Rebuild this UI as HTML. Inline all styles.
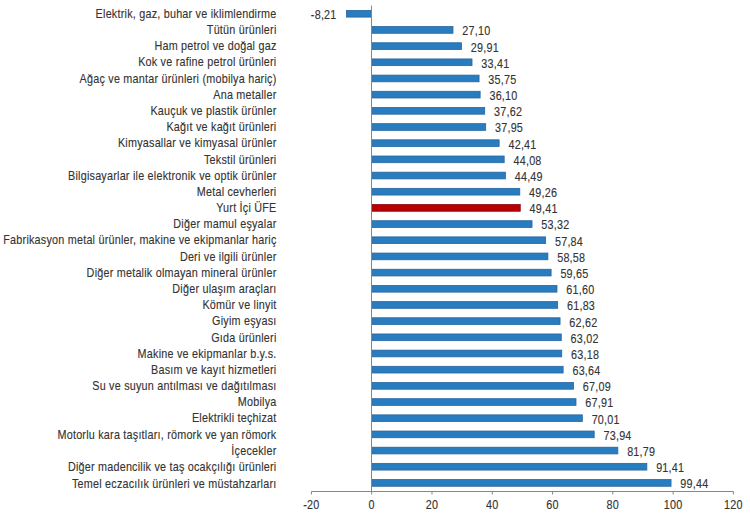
<!DOCTYPE html>
<html><head><meta charset="utf-8"><style>
html,body{margin:0;padding:0;background:#fff;overflow:hidden;width:750px;height:515px;}
svg{display:block;}
text{font-family:"Liberation Sans",sans-serif;font-size:12.0px;fill:#333;stroke:#333;stroke-width:0.12px;letter-spacing:0.245px;}
</style></head><body>
<svg width="750" height="515" viewBox="0 0 750 515">
<rect width="750" height="515" fill="#fff"/>

<rect x="346.45" y="10.40" width="24.85" height="6.70" fill="#277DC0" stroke="#2a659c" stroke-width="0.8"/>
<rect x="372.10" y="26.58" width="80.89" height="6.70" fill="#277DC0" stroke="#2a659c" stroke-width="0.8"/>
<rect x="372.10" y="42.76" width="89.36" height="6.70" fill="#277DC0" stroke="#2a659c" stroke-width="0.8"/>
<rect x="372.10" y="58.93" width="99.91" height="6.70" fill="#277DC0" stroke="#2a659c" stroke-width="0.8"/>
<rect x="372.10" y="75.11" width="106.96" height="6.70" fill="#277DC0" stroke="#2a659c" stroke-width="0.8"/>
<rect x="372.10" y="91.29" width="108.02" height="6.70" fill="#277DC0" stroke="#2a659c" stroke-width="0.8"/>
<rect x="372.10" y="107.47" width="112.60" height="6.70" fill="#277DC0" stroke="#2a659c" stroke-width="0.8"/>
<rect x="372.10" y="123.65" width="113.59" height="6.70" fill="#277DC0" stroke="#2a659c" stroke-width="0.8"/>
<rect x="372.10" y="139.82" width="127.04" height="6.70" fill="#277DC0" stroke="#2a659c" stroke-width="0.8"/>
<rect x="372.10" y="156.00" width="132.07" height="6.70" fill="#277DC0" stroke="#2a659c" stroke-width="0.8"/>
<rect x="372.10" y="172.18" width="133.31" height="6.70" fill="#277DC0" stroke="#2a659c" stroke-width="0.8"/>
<rect x="372.10" y="188.36" width="147.68" height="6.70" fill="#277DC0" stroke="#2a659c" stroke-width="0.8"/>
<rect x="372.10" y="204.54" width="148.14" height="6.70" fill="#B90000" stroke="#8a0010" stroke-width="0.8"/>
<rect x="372.10" y="220.71" width="159.92" height="6.70" fill="#277DC0" stroke="#2a659c" stroke-width="0.8"/>
<rect x="372.10" y="236.89" width="173.55" height="6.70" fill="#277DC0" stroke="#2a659c" stroke-width="0.8"/>
<rect x="372.10" y="253.07" width="175.78" height="6.70" fill="#277DC0" stroke="#2a659c" stroke-width="0.8"/>
<rect x="372.10" y="269.25" width="179.00" height="6.70" fill="#277DC0" stroke="#2a659c" stroke-width="0.8"/>
<rect x="372.10" y="285.43" width="184.88" height="6.70" fill="#277DC0" stroke="#2a659c" stroke-width="0.8"/>
<rect x="372.10" y="301.60" width="185.57" height="6.70" fill="#277DC0" stroke="#2a659c" stroke-width="0.8"/>
<rect x="372.10" y="317.78" width="187.96" height="6.70" fill="#277DC0" stroke="#2a659c" stroke-width="0.8"/>
<rect x="372.10" y="333.96" width="189.16" height="6.70" fill="#277DC0" stroke="#2a659c" stroke-width="0.8"/>
<rect x="372.10" y="350.14" width="189.64" height="6.70" fill="#277DC0" stroke="#2a659c" stroke-width="0.8"/>
<rect x="372.10" y="366.31" width="191.03" height="6.70" fill="#277DC0" stroke="#2a659c" stroke-width="0.8"/>
<rect x="372.10" y="382.49" width="201.43" height="6.70" fill="#277DC0" stroke="#2a659c" stroke-width="0.8"/>
<rect x="372.10" y="398.67" width="203.90" height="6.70" fill="#277DC0" stroke="#2a659c" stroke-width="0.8"/>
<rect x="372.10" y="414.85" width="210.23" height="6.70" fill="#277DC0" stroke="#2a659c" stroke-width="0.8"/>
<rect x="372.10" y="431.03" width="222.08" height="6.70" fill="#277DC0" stroke="#2a659c" stroke-width="0.8"/>
<rect x="372.10" y="447.21" width="245.74" height="6.70" fill="#277DC0" stroke="#2a659c" stroke-width="0.8"/>
<rect x="372.10" y="463.38" width="274.74" height="6.70" fill="#277DC0" stroke="#2a659c" stroke-width="0.8"/>
<rect x="372.10" y="479.56" width="298.94" height="6.70" fill="#277DC0" stroke="#2a659c" stroke-width="0.8"/>
<line x1="371.5" y1="5.66" x2="371.5" y2="491.5" stroke="#868686" stroke-width="1"/>
<line x1="311.41" y1="491.5" x2="733.42" y2="491.5" stroke="#868686" stroke-width="1"/>
<line x1="311.41" y1="491.5" x2="311.41" y2="494.5" stroke="#868686" stroke-width="1"/>
<text transform="translate(311.41,508.5) scale(0.9000,1)" text-anchor="middle">-20</text>
<line x1="371.70" y1="491.5" x2="371.70" y2="494.5" stroke="#868686" stroke-width="1"/>
<text transform="translate(371.70,508.5) scale(0.9000,1)" text-anchor="middle">0</text>
<line x1="431.99" y1="491.5" x2="431.99" y2="494.5" stroke="#868686" stroke-width="1"/>
<text transform="translate(431.99,508.5) scale(0.9000,1)" text-anchor="middle">20</text>
<line x1="492.27" y1="491.5" x2="492.27" y2="494.5" stroke="#868686" stroke-width="1"/>
<text transform="translate(492.27,508.5) scale(0.9000,1)" text-anchor="middle">40</text>
<line x1="552.56" y1="491.5" x2="552.56" y2="494.5" stroke="#868686" stroke-width="1"/>
<text transform="translate(552.56,508.5) scale(0.9000,1)" text-anchor="middle">60</text>
<line x1="612.84" y1="491.5" x2="612.84" y2="494.5" stroke="#868686" stroke-width="1"/>
<text transform="translate(612.84,508.5) scale(0.9000,1)" text-anchor="middle">80</text>
<line x1="673.13" y1="491.5" x2="673.13" y2="494.5" stroke="#868686" stroke-width="1"/>
<text transform="translate(673.13,508.5) scale(0.9000,1)" text-anchor="middle">100</text>
<line x1="733.42" y1="491.5" x2="733.42" y2="494.5" stroke="#868686" stroke-width="1"/>
<text transform="translate(733.42,508.5) scale(0.9000,1)" text-anchor="middle">120</text>
<text transform="translate(276.5,17.95) scale(0.9000,1)" text-anchor="end">Elektrik, gaz, buhar ve iklimlendirme</text>
<text transform="translate(276.5,34.13) scale(0.9000,1)" text-anchor="end">Tütün ürünleri</text>
<text transform="translate(276.5,50.31) scale(0.9000,1)" text-anchor="end">Ham petrol ve doğal gaz</text>
<text transform="translate(276.5,66.48) scale(0.9000,1)" text-anchor="end">Kok ve rafine petrol ürünleri</text>
<text transform="translate(276.5,82.66) scale(0.9000,1)" text-anchor="end">Ağaç ve mantar ürünleri (mobilya hariç)</text>
<text transform="translate(276.5,98.84) scale(0.9000,1)" text-anchor="end">Ana metaller</text>
<text transform="translate(276.5,115.02) scale(0.9000,1)" text-anchor="end">Kauçuk ve plastik ürünler</text>
<text transform="translate(276.5,131.19) scale(0.9000,1)" text-anchor="end">Kağıt ve kağıt ürünleri</text>
<text transform="translate(276.5,147.37) scale(0.9000,1)" text-anchor="end">Kimyasallar ve kimyasal ürünler</text>
<text transform="translate(276.5,163.55) scale(0.9000,1)" text-anchor="end">Tekstil ürünleri</text>
<text transform="translate(276.5,179.73) scale(0.9000,1)" text-anchor="end">Bilgisayarlar ile elektronik ve optik ürünler</text>
<text transform="translate(276.5,195.91) scale(0.9000,1)" text-anchor="end">Metal cevherleri</text>
<text transform="translate(276.5,212.09) scale(0.9000,1)" text-anchor="end">Yurt İçi ÜFE</text>
<text transform="translate(276.5,228.26) scale(0.9000,1)" text-anchor="end">Diğer mamul eşyalar</text>
<text transform="translate(276.5,244.44) scale(0.9000,1)" text-anchor="end">Fabrikasyon metal ürünler, makine ve ekipmanlar hariç</text>
<text transform="translate(276.5,260.62) scale(0.9000,1)" text-anchor="end">Deri ve ilgili ürünler</text>
<text transform="translate(276.5,276.80) scale(0.9000,1)" text-anchor="end">Diğer metalik olmayan mineral ürünler</text>
<text transform="translate(276.5,292.98) scale(0.9000,1)" text-anchor="end">Diğer ulaşım araçları</text>
<text transform="translate(276.5,309.15) scale(0.9000,1)" text-anchor="end">Kömür ve linyit</text>
<text transform="translate(276.5,325.33) scale(0.9000,1)" text-anchor="end">Giyim eşyası</text>
<text transform="translate(276.5,341.51) scale(0.9000,1)" text-anchor="end">Gıda ürünleri</text>
<text transform="translate(276.5,357.69) scale(0.9000,1)" text-anchor="end">Makine ve ekipmanlar b.y.s.</text>
<text transform="translate(276.5,373.87) scale(0.9000,1)" text-anchor="end">Basım ve kayıt hizmetleri</text>
<text transform="translate(276.5,390.04) scale(0.9000,1)" text-anchor="end">Su ve suyun antılması ve dağıtılması</text>
<text transform="translate(276.5,406.22) scale(0.9000,1)" text-anchor="end">Mobilya</text>
<text transform="translate(276.5,422.40) scale(0.9000,1)" text-anchor="end">Elektrikli teçhizat</text>
<text transform="translate(276.5,438.58) scale(0.9000,1)" text-anchor="end">Motorlu kara taşıtları, römork ve yan römork</text>
<text transform="translate(276.5,454.76) scale(0.9000,1)" text-anchor="end">İçecekler</text>
<text transform="translate(276.5,470.93) scale(0.9000,1)" text-anchor="end">Diğer madencilik ve taş ocakçılığı ürünleri</text>
<text transform="translate(276.5,487.91) scale(0.9000,1)" text-anchor="end">Temel eczacılık ürünleri ve müstahzarları</text>
<text transform="translate(336.55,19.15) scale(0.9000,1)" text-anchor="end">-8,21</text>
<text transform="translate(462.29,35.33) scale(0.9000,1)">27,10</text>
<text transform="translate(470.76,51.51) scale(0.9000,1)">29,91</text>
<text transform="translate(481.31,67.68) scale(0.9000,1)">33,41</text>
<text transform="translate(488.36,83.86) scale(0.9000,1)">35,75</text>
<text transform="translate(489.42,100.04) scale(0.9000,1)">36,10</text>
<text transform="translate(494.00,116.22) scale(0.9000,1)">37,62</text>
<text transform="translate(494.99,132.40) scale(0.9000,1)">37,95</text>
<text transform="translate(508.44,148.57) scale(0.9000,1)">42,41</text>
<text transform="translate(513.47,164.75) scale(0.9000,1)">44,08</text>
<text transform="translate(514.71,180.93) scale(0.9000,1)">44,49</text>
<text transform="translate(529.08,197.11) scale(0.9000,1)">49,26</text>
<text transform="translate(529.54,213.29) scale(0.9000,1)">49,41</text>
<text transform="translate(541.32,229.46) scale(0.9000,1)">53,32</text>
<text transform="translate(554.95,245.64) scale(0.9000,1)">57,84</text>
<text transform="translate(557.18,261.82) scale(0.9000,1)">58,58</text>
<text transform="translate(560.40,278.00) scale(0.9000,1)">59,65</text>
<text transform="translate(566.28,294.18) scale(0.9000,1)">61,60</text>
<text transform="translate(566.97,310.35) scale(0.9000,1)">61,83</text>
<text transform="translate(569.36,326.53) scale(0.9000,1)">62,62</text>
<text transform="translate(570.56,342.71) scale(0.9000,1)">63,02</text>
<text transform="translate(571.04,358.89) scale(0.9000,1)">63,18</text>
<text transform="translate(572.43,375.06) scale(0.9000,1)">63,64</text>
<text transform="translate(582.83,391.24) scale(0.9000,1)">67,09</text>
<text transform="translate(585.30,407.42) scale(0.9000,1)">67,91</text>
<text transform="translate(591.63,423.60) scale(0.9000,1)">70,01</text>
<text transform="translate(603.48,439.78) scale(0.9000,1)">73,94</text>
<text transform="translate(627.14,455.96) scale(0.9000,1)">81,79</text>
<text transform="translate(656.14,472.13) scale(0.9000,1)">91,41</text>
<text transform="translate(680.34,488.31) scale(0.9000,1)">99,44</text>
</svg>
</body></html>
